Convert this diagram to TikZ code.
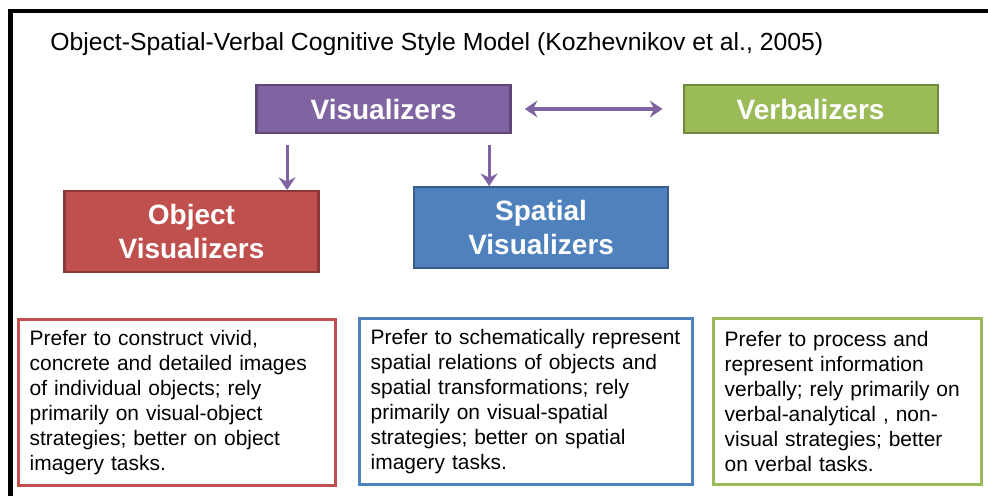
\documentclass[tikz,border=0pt]{standalone}
\usepackage{fontspec}
\setmainfont{Liberation Sans}
\usepackage{xcolor}
\usepackage{tikz}
\usetikzlibrary{arrows.meta, positioning}
\definecolor{vispurple}{RGB}{128,100,162}
\definecolor{visborder}{RGB}{92,71,118}
\definecolor{verbgreen}{RGB}{155,187,89}
\definecolor{verbborder}{RGB}{113,137,63}
\definecolor{objred}{RGB}{192,80,77}
\definecolor{objborder}{RGB}{140,56,54}
\definecolor{spatblue}{RGB}{79,129,189}
\definecolor{spatborder}{RGB}{56,93,138}

\begin{document}
\begin{tikzpicture}[
    node distance=1.3cm,
    heading/.style={inner sep=0pt, text=black, font=\fontsize{17.6pt}{21pt}\selectfont},
    group/.style={rectangle, minimum width=6.35cm, minimum height=1.2cm, text centered, line width=1.5pt, text=white, font=\fontsize{19.9pt}{24.2pt}\selectfont\bfseries},
    subgroup/.style={group, minimum height=2.02cm, align=center},
    desc/.style={rectangle, line width=2pt, inner xsep=0.28cm, inner ysep=0pt, minimum height=4.15cm, align=left, text=black, font=\fontsize{14.9pt}{17.8pt}\selectfont},
    arrow/.style={line width=2.2pt,->,>={Stealth[length=9pt,width=12pt,inset=3pt]},color=vispurple}
]

\useasboundingbox (0,0) rectangle (24.7,-12.375);
% outer frame: only its top and left edges show
\draw [line width=3.2pt] (0.26,-12.6) -- (0.26,-0.27) -- (25,-0.27);

\node (title) [heading, anchor=base west] at (1.25,-1.25) {Object-Spatial-Verbal Cognitive Style Model (Kozhevnikov et al., 2005)};

\node (vis) [group, fill=vispurple, draw=visborder] at (9.5875,-2.725) {Visualizers};
\node (verb) [group, fill=verbgreen, draw=verbborder, right=4.275cm of vis] {Verbalizers};
\node (objv) [subgroup, fill=objred, draw=objborder, below=1.4cm of vis, xshift=-4.8cm] {Object\\Visualizers};
\node (spatv) [subgroup, fill=spatblue, draw=spatborder, below=1.3cm of vis, xshift=3.94cm] {Spatial\\Visualizers};

\node (objdesc) [desc, draw=objred, text width=7.37cm, below=1.125cm of objv, xshift=-0.36cm] {Prefer to construct vivid,\\concrete and detailed images\\of individual objects; rely\\primarily on visual-object\\strategies; better on object\\imagery tasks.};
\node (spatdesc) [desc, draw=spatblue, text width=7.77cm, below=1.2cm of spatv, xshift=-0.375cm] {Prefer to schematically represent\\spatial relations of objects and\\spatial transformations; rely\\primarily on visual-spatial\\strategies; better on spatial\\imagery tasks.};
\node (verbdesc) [desc, draw=verbgreen, text width=6.145cm, right=0.45cm of spatdesc] {Prefer to process and\\represent information\\verbally; rely primarily on\\verbal-analytical , non-\\visual strategies; better\\on verbal tasks.};

\draw [arrow] ([xshift=0.79cm,yshift=-0.28cm]vis.south west) -- ([xshift=0.79cm]vis.south west |- objv.north);
\draw [arrow] ([xshift=-0.56cm,yshift=-0.28cm]vis.south east) -- ([xshift=-0.56cm]vis.south east |- spatv.north);
\draw [arrow, <->] ([xshift=0.33cm]vis.east) -- ([xshift=-0.5cm]verb.west);

\end{tikzpicture}
\end{document}
